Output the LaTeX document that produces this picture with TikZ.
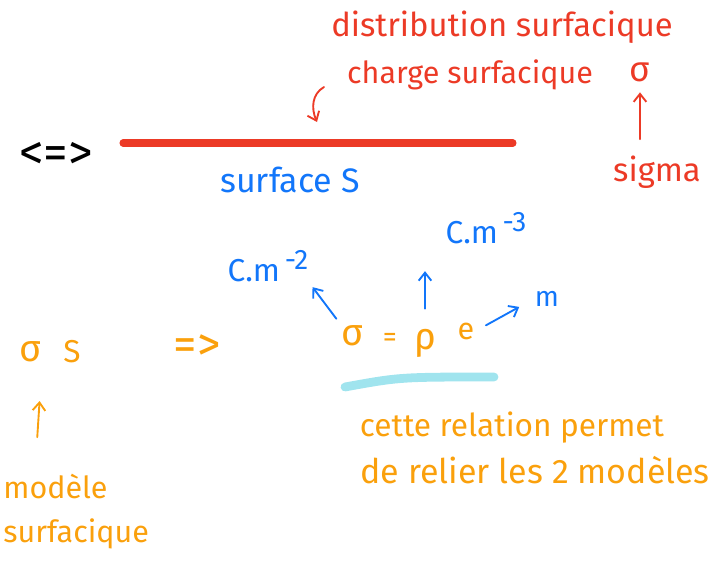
\documentclass[tikz,border=0pt]{standalone}
\usepackage{fontspec}
\setmainfont{Fira Sans}
\usetikzlibrary{arrows.meta}
\definecolor{inkred}{RGB}{236,58,38}
\definecolor{inkblue}{RGB}{18,118,250}
\definecolor{inkorange}{RGB}{250,160,12}
\definecolor{inkcyan}{RGB}{160,228,238}
\newcommand{\fs}[1]{\fontsize{#1}{#1}\selectfont}
\newcommand{\expo}[1]{\raisebox{.75ex}{\fs{24}\,#1}}

\begin{document}
\begin{tikzpicture}[
    x=0.03cm,
    y=-0.03cm,
    every node/.style={font=\fs{26}, inner sep=1pt},
    redink/.style={text=inkred},
    blueink/.style={text=inkblue},
    orangeink/.style={text=inkorange},
    penarrow/.style={-{Straight Barb[length=2.4mm,width=3.8mm]}, line width=1.6pt, line cap=round},
    bar/.style={draw=inkred, line width=6pt, line cap=round},
    highlight/.style={draw=inkcyan, line width=7.5pt, line cap=round}
  ]
    \useasboundingbox (0,0) rectangle (718,561);

    % top: the surface
    \node[redink, font=\fs{28}] (distrib) at (502,27) {distribution surfacique};
    \node[redink] (charge) at (470,75) {charge surfacique};
    \node[redink, font=\fs{30}] (sigtop) at (640,72) {σ};
    \node[redink, font=\fs{28}] (signame) at (657,172) {sigma};
    \node[font=\fs{42}] (equiv) at (56,156) {<=>};
    \node[blueink, font=\fs{29}] (surf) at (290,180) {surface S};

    \coordinate (hooktop) at (324,87);
    \coordinate (barhit) at (317,122);
    \draw[bar] (123,143) -- (513,143);

    \draw[penarrow, inkred] (hooktop) .. controls (312,94) and (311,108) .. (barhit);
    \draw[penarrow, inkred, shorten <=13pt, shorten >=8pt] (signame.north -| sigtop.south) -- (sigtop.south);

    % units
    \node[blueink, font=\fs{27}] (cmthree) at (486,228) {C.m\expo{-3}};
    \node[blueink, font=\fs{27}] (cmtwo) at (268,266) {C.m\expo{-2}};
    \node[blueink, font=\fs{24}] (metre) at (547,299) {m};

    % relation
    \node[orangeink, font=\fs{32}] (sigeq) at (353,336) {σ};
    \node[orangeink, font=\fs{24}] (equal) at (390,340) {=};
    \node[orangeink, font=\fs{32}] (rho) at (425,343) {ρ};
    \node[orangeink, font=\fs{26}] (epais) at (466,331) {e};

    \draw[penarrow, inkblue, shorten <=6pt, shorten >=4pt] (sigeq.north west) -- (cmtwo.south east);
    \draw[penarrow, inkblue, shorten <=16pt, shorten >=22pt] (rho.north) -- (cmthree.south -| rho.north);
    \draw[penarrow, inkblue, shorten <=10pt, shorten >=14pt] (epais.east) -- (metre.west);

    \draw[highlight] (345,387) .. controls (400,377) .. (494,377);

    % left: model
    \node[orangeink, font=\fs{32}] (sigleft) at (31,352) {σ};
    \node[orangeink, font=\fs{27}] (sleft) at (72,352) {S};
    \node[orangeink, font=\fs{40}] (implies) at (197,348) {=>};
    \node[orangeink, anchor=west] (modele) at (2,486) {modèle};
    \node[orangeink, anchor=west] (surfleft) at (2,534) {surfacique};

    \draw[penarrow, inkorange, shorten <=30pt, shorten >=32pt] (modele.north -| 35,0) -- (sigleft.south -| 42,0);

    \node[orangeink, font=\fs{27}] (cette) at (512,428) {cette relation permet};
    \node[orangeink, font=\fs{29}] (relier) at (535,470) {de relier les 2 modèles};
  \end{tikzpicture}
\end{document}
